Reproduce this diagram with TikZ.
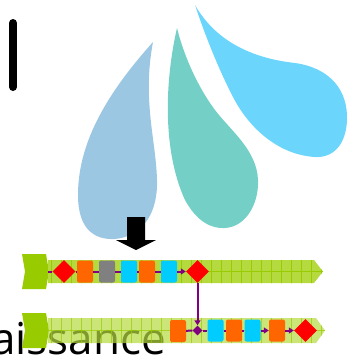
\documentclass[tikz,border=0pt]{standalone}
\usepackage{fontspec}
\setmainfont{Open Sans}
\usepackage{tikz}
\usetikzlibrary{shapes.geometric,arrows.meta}

\definecolor{dropGray}{HTML}{9BC7E3}
\definecolor{dropTeal}{HTML}{74D0C6}
\definecolor{dropSky}{HTML}{6CD5FC}
\definecolor{laneGreen}{HTML}{99CC00}
\definecolor{laneFill}{HTML}{B5DA40}
\definecolor{flowPurple}{HTML}{800080}
\definecolor{taskOrange}{HTML}{FF6600}
\definecolor{taskCyan}{HTML}{00CCFF}
\definecolor{taskGray}{HTML}{808080}

\begin{document}
\begin{tikzpicture}
 [x=1pt, y=-1pt,
  task node/.style={node distance=22pt, rectangle, rounded corners=2pt, minimum width=16pt, minimum height=22pt, inner sep=0pt},
  gate node/.style={node distance=22pt, diamond, fill=red, minimum size=23pt, inner sep=0pt},
  join node/.style={diamond, fill=flowPurple, minimum size=10pt, inner sep=0pt},
  flow/.style={draw=flowPurple, line width=2pt},
  flow arrow/.style={flow, -{Triangle[length=5pt,width=6pt]}}]

\useasboundingbox (0,0) rectangle (358,354);
\clip (0,0) rectangle (358,354);

% drops
\fill[dropGray] (153,42) .. controls (110,90) and (78,140) .. (78,195)
  .. controls (78,230) and (95,240) .. (115,239)
  .. controls (145,236) and (158,210) .. (157,180)
  .. controls (156,140) and (142,100) .. (153,42);
\fill[dropTeal] (177,28) .. controls (165,80) and (162,150) .. (185,200)
  .. controls (197,222) and (212,229) .. (225,228)
  .. controls (245,227) and (259,205) .. (258,180)
  .. controls (257,150) and (230,130) .. (215,110)
  .. controls (200,90) and (185,60) .. (177,28);
\fill[dropSky] (195,5) .. controls (215,40) and (250,58) .. (295,63)
  .. controls (330,68) and (348,90) .. (347,120)
  .. controls (346,145) and (333,158) .. (315,157)
  .. controls (280,155) and (250,130) .. (233,97)
  .. controls (218,68) and (205,35) .. (195,5);

\draw[line width=8pt, line cap=round] (13,23) -- (13,87);

% block arrow
\fill (127,217) -- (145,217) -- (145,240) -- (156,240) -- (136,250) -- (116,240) -- (127,240) -- cycle;

\node[anchor=base east, inner sep=0pt, font=\fontsize{44}{44}\selectfont] (word) at (166,354) {aissance};

% lanes
\foreach \y/\h/\tip/\op in {271.5/11.5/323/1, 330.5/12.5/325/0.7}{
  \fill[laneGreen] (22,\y-17.5) -- (46,\y-17.5) -- (49,\y) -- (46,\y+17.5) -- (22,\y+17.5) -- (25,\y) -- cycle;
  \begin{scope}
    \clip (48,\y-\h) -- (\tip-9,\y-\h) -- (\tip,\y) -- (\tip-9,\y+\h) -- (48,\y+\h) -- cycle;
    \fill[laneFill, fill opacity=\op] (48,\y-20) rectangle (330,\y+20);
    \foreach \x in {51.7,61.7,...,321.7}
      \draw[laneGreen, line width=1pt, draw opacity=\op] (\x,\y-20) -- (\x,\y+20);
    \draw[laneGreen, line width=1pt, draw opacity=\op] (40,\y) -- (330,\y);
  \end{scope}
}

% top flow
\coordinate (a0) at (48,271.5);
\node[gate node] (a1) at (64,271.5) {};
\node[task node, fill=taskOrange] (a2) [right of=a1, node distance=21pt] {};
\node[task node, fill=taskGray] (a3) [right of=a2] {};
\node[task node, fill=taskCyan] (a4) [right of=a3] {};
\node[task node, fill=taskOrange] (a5) [right of=a4, node distance=18pt] {};
\node[task node, fill=taskCyan] (a6) [right of=a5] {};
\node[gate node] (a7) [right of=a6, node distance=28.5pt] {};

% bottom flow
\node[task node, fill=taskOrange] (b1) at (178,331) {};
\node[join node] (b2) at (197.5,330.5) {};
\node[task node, fill=taskCyan] (b3) [right of=b2, node distance=18pt] {};
\node[task node, fill=taskOrange] (b4) [right of=b3, node distance=18.5pt] {};
\node[task node, fill=taskCyan] (b5) [right of=b4, node distance=18.5pt] {};
\node[task node, fill=taskOrange] (b6) [right of=b5, node distance=24.5pt] {};
\node[gate node] (b7) [right of=b6, node distance=28.5pt] {};

\path
  (a0) edge [flow] (a1)
  (a1) edge [flow] (a2)
  (a2) edge [flow] (a3)
  (a3) edge [flow] (a4)
  (a4) edge [flow] (a5)
  (a5) edge [flow] (a6)
  (a6) edge [flow arrow] (a7)

  (a7) edge [flow arrow] (b2)

  (b1) edge [flow] (b2)
  (b2) edge [flow] (b3)
  (b3) edge [flow] (b4)
  (b4) edge [flow] (b5)
  (b5) edge [flow arrow] (b6)
  (b6) edge [flow arrow] (b7);

\end{tikzpicture}
\end{document}
